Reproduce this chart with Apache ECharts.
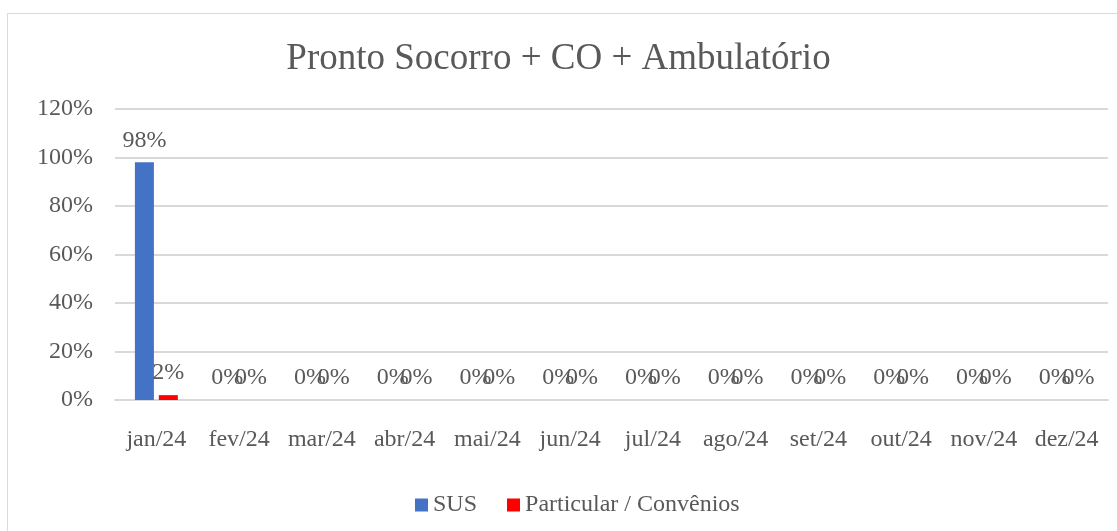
<!DOCTYPE html>
<html>
<head>
<meta charset="utf-8">
<script src="https://cdn.jsdelivr.net/npm/echarts@6/dist/echarts.min.js"></script>
<style>
  html, body { margin: 0; padding: 0; background: #fff; }
  #frame { position: absolute; left: 7px; top: 13px; width: 1200px; height: 600px; border: 1px solid #d9d9d9; }
  #main { position: absolute; left: 0; top: 0; width: 1117px; height: 531px; }
</style>
</head>
<body>
<div id="frame"></div>
<div id="main"></div>
<script>
var months = ['jan/24', 'fev/24', 'mar/24', 'abr/24', 'mai/24', 'jun/24', 'jul/24', 'ago/24', 'set/24', 'out/24', 'nov/24', 'dez/24'];
var sus = [98, 0, 0, 0, 0, 0, 0, 0, 0, 0, 0, 0];
var particular = [2, 0, 0, 0, 0, 0, 0, 0, 0, 0, 0, 0];

var font = 'Liberation Serif';
var grey = '#595959';

var labelStyle = {
  show: true,
  position: 'top',
  distance: 10,
  formatter: '{c}%',
  fontFamily: font,
  fontSize: 24,
  color: grey
};

var option = {
  animation: false,
  title: {
    text: 'Pronto Socorro + CO + Ambulatório',
    left: 'center',
    top: 36,
    textStyle: { fontFamily: font, fontSize: 37, fontWeight: 'normal', color: grey }
  },
  legend: {
    bottom: 9,
    left: 410,
    itemWidth: 13,
    itemHeight: 13,
    itemGap: 30,
    icon: 'rect',
    textStyle: { fontFamily: font, fontSize: 24, color: grey }
  },
  grid: { left: 115, right: 9, top: 109, bottom: 131 },
  xAxis: {
    type: 'category',
    data: months,
    axisLine: { lineStyle: { color: '#d9d9d9', width: 2 } },
    axisTick: { show: false },
    axisLabel: { interval: 0, fontFamily: font, fontSize: 24, color: grey, margin: 28 }
  },
  yAxis: {
    type: 'value',
    min: 0,
    max: 120,
    interval: 20,
    axisLabel: { formatter: '{value}%', fontFamily: font, fontSize: 24, color: grey, margin: 22 },
    splitLine: { lineStyle: { color: '#d9d9d9', width: 2 } }
  },
  series: [
    {
      name: 'SUS',
      type: 'bar',
      data: sus,
      barWidth: 19,
      barGap: '26%',
      itemStyle: { color: '#4472c4' },
      label: labelStyle
    },
    {
      name: 'Particular / Convênios',
      type: 'bar',
      data: particular,
      barWidth: 19,
      itemStyle: { color: '#ff0000' },
      label: labelStyle
    }
  ]
};

var chart = echarts.init(document.getElementById('main'));
chart.setOption(option);
</script>
</body>
</html>
